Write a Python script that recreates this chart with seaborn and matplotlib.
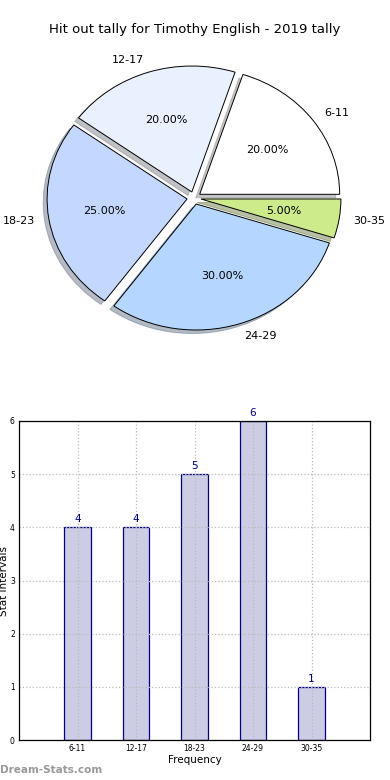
import matplotlib
matplotlib.use("Agg")
import matplotlib.pyplot as plt
import seaborn as sns
import pandas as pd

sns.set_style("white")
plt.rcParams['font.family'] = ['DejaVu Sans']
plt.rcParams['text.color'] = 'black'
plt.rcParams['axes.labelcolor'] = 'black'
plt.rcParams['xtick.color'] = 'black'
plt.rcParams['ytick.color'] = 'black'

intervals = ["6-11", "12-17", "18-23", "24-29", "30-35"]
counts = [4, 4, 5, 6, 1]
pie_colors = ["#ffffff", "#eaf1fe", "#c4d8ff", "#b5d7ff", "#cdeb8b"]

df = pd.DataFrame({"interval": intervals, "count": counts})

fig = plt.figure(figsize=(3.9, 7.8), dpi=100)

# pie chart on top
ax1 = fig.add_axes([(194 - 175) / 390, (780 - 198 - 157.5) / 780, 350 / 390, 315 / 780])
wedges, texts, autotexts = ax1.pie(df["count"], labels=df["interval"], colors=pie_colors,
                                   explode=[0.05] * 5,
                                   shadow={"ox": -0.02, "oy": -0.02, "shade": 0.45},
                                   autopct="%.2f%%", startangle=0, counterclock=True,
                                   wedgeprops={"edgecolor": "black", "linewidth": 0.7},
                                   textprops={"fontsize": 8, "color": "black"})
ax1.set_aspect("auto")
ax1.set_xlim(-1.25, 1.25)
ax1.set_ylim(-1.25, 1.25)
fig.text(0.5, 1 - 30 / 780, "Hit out tally for Timothy English - 2019 tally",
         ha="center", va="center", fontsize=9.5, color="black")

# bar chart below
ax2 = fig.add_axes([19 / 390, 40 / 780, 351 / 390, 319 / 780])
sns.barplot(data=df, x="interval", y="count", ax=ax2, color="#ccccee",
            edgecolor="navy", linewidth=0.9, width=0.45, saturation=1)
for p in ax2.patches:
    p.set_facecolor("#ccccE5")
ax2.set_xlim(-1, 5)
ax2.set_ylim(0, 6)
ax2.set_xlabel("Frequency", fontsize=7.5, labelpad=1)
ax2.set_ylabel("Stat Intervals", fontsize=7.5, labelpad=1)
ax2.tick_params(axis="both", labelsize=5.5, direction="in", length=3, pad=3)
ax2.set_axisbelow(False)
ax2.grid(True, linestyle=":", color="#bbbbbb", linewidth=0.9)
for s in ax2.spines.values():
    s.set_color("black")
    s.set_linewidth(0.9)
    s.set_zorder(5)
for i, v in enumerate(counts):
    ax2.text(i, v + 0.06, str(v), ha="center", va="bottom", color="navy", fontsize=7.5)

fig.text(0.0, 1 - 770 / 780, "Dream-Stats.com", ha="left", va="center",
         fontsize=7.5, color="#999999", fontweight="semibold")

fig.savefig("out.png", dpi=100)
